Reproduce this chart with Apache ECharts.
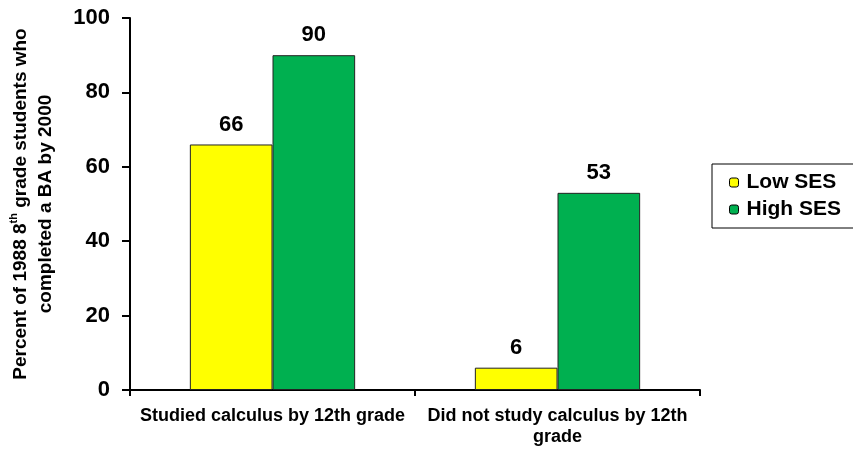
<!DOCTYPE html>
<html>
<head>
<meta charset="utf-8">
<script src="https://cdn.jsdelivr.net/npm/echarts@6/dist/echarts.min.js"></script>
<style>
  html, body { margin: 0; padding: 0; background: #fff; }
  #chart { width: 853px; height: 451px; }
</style>
</head>
<body>
<div id="chart"></div>
<script>
// data
const categories = ['Studied calculus by 12th grade', 'Did not study calculus by 12th\ngrade']
const lowSES = [66, 6]
const highSES = [90, 53]
const yTicks = [0, 20, 40, 60, 80, 100]

const font = 'Liberation Sans, Arial, sans-serif'
const myChart = echarts.init(document.getElementById('chart'))

myChart.setOption({
  animation: false,
  backgroundColor: '#fff',
  textStyle: { fontFamily: font, fontWeight: 'bold', color: '#000' },
  grid: { left: 130, right: 153, top: 18, bottom: 61 },
  legend: {
    orient: 'vertical',
    left: 712,
    top: 164,
    padding: [8, 40, 8, 17],
    itemGap: 6,
    itemWidth: 9,
    itemHeight: 9,
    borderColor: '#000',
    borderWidth: 1,
    textStyle: { fontSize: 21, fontWeight: 'bold', fontFamily: font, color: '#000', padding: [0, 0, 0, 3] },
    itemStyle: { borderColor: '#000', borderWidth: 1 },
    data: ['Low SES', 'High SES']
  },
  xAxis: {
    type: 'category',
    data: categories,
    axisLine: { lineStyle: { color: '#000', width: 2 } },
    axisTick: { show: true, length: 6, lineStyle: { color: '#000', width: 2 } },
    axisLabel: { fontSize: 18, fontWeight: 'bold', color: '#000', margin: 16, lineHeight: 21, interval: 0 }
  },
  yAxis: {
    type: 'value',
    min: yTicks[0],
    max: yTicks[yTicks.length - 1],
    interval: 20,
    name: 'Percent of 1988 8{sup|th} grade students who\ncompleted a BA by 2000',
    nameLocation: 'middle',
    nameGap: 72,
    nameTextStyle: {
      fontSize: 19, fontWeight: 'bold', color: '#000', lineHeight: 25,
      rich: { sup: { fontSize: 11, fontWeight: 'bold', verticalAlign: 'top', padding: [0, 0, 9, 0] } }
    },
    axisLine: { show: true, lineStyle: { color: '#000', width: 2 } },
    axisTick: { show: true, length: 8, lineStyle: { color: '#000', width: 2 } },
    axisLabel: { fontSize: 22, fontWeight: 'bold', color: '#000', margin: 20 },
    splitLine: { show: false }
  },
  series: [
    {
      name: 'Low SES',
      type: 'bar',
      data: lowSES,
      barGap: '0%',
      barCategoryGap: '42%',
      itemStyle: { color: '#FFFF00', borderColor: '#222', borderWidth: 1 },
      label: { show: true, position: 'top', distance: 9, fontSize: 22, fontWeight: 'bold', color: '#000' }
    },
    {
      name: 'High SES',
      type: 'bar',
      data: highSES,
      itemStyle: { color: '#00B050', borderColor: '#222', borderWidth: 1 },
      label: { show: true, position: 'top', distance: 9, fontSize: 22, fontWeight: 'bold', color: '#000' }
    }
  ]
})

window.addEventListener('resize', () => { myChart.resize() })
</script>
</body>
</html>
